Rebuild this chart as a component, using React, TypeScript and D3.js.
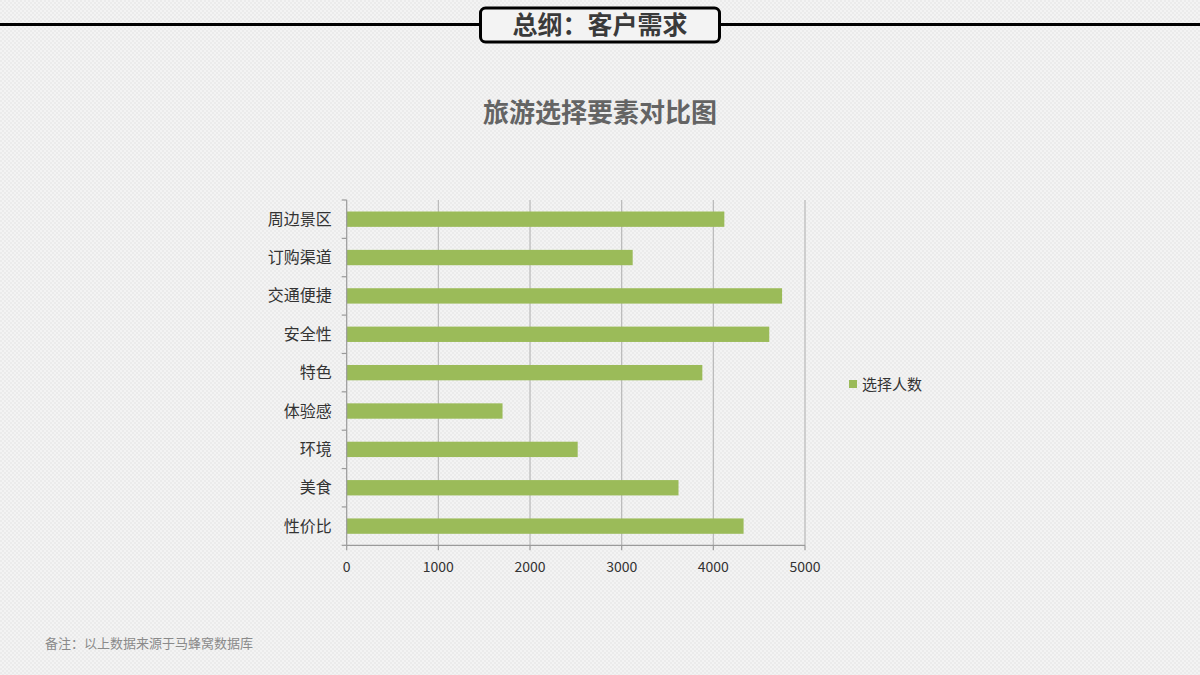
import React from "react";
import * as d3 from "d3";

const categories = ["周边景区", "订购渠道", "交通便捷", "安全性", "特色", "体验感", "环境", "美食", "性价比"];
const values = [4120, 3120, 4750, 4610, 3880, 1700, 2520, 3620, 4330];
const xTicks = [0, 1000, 2000, 3000, 4000, 5000];
const seriesName = "选择人数";
const headerText = "总纲：客户需求";
const titleText = "旅游选择要素对比图";
const noteText = "备注：以上数据来源于马蜂窝数据库";

const W = 1200;
const H = 675;
const plot = { left: 346.7, right: 805, top: 200, bottom: 545.3 };
const barColor = "#9bbb59";
const font = "'Noto Sans CJK SC', 'Noto Sans', sans-serif";

export default function App() {
  const x = d3.scaleLinear().domain([0, 5000]).range([plot.left, plot.right]);
  const y = d3.scaleBand<string>().domain(categories).range([plot.top, plot.bottom]).paddingInner(0.6).paddingOuter(0.3);
  const yb = d3.scaleBand<string>().domain(categories).range([plot.top, plot.bottom]);
  const boundaries = d3.range(categories.length + 1).map((i) => plot.top + i * yb.step());

  return (
    <svg width={W} height={H} style={{ position: "absolute", left: 0, top: 0 }}>
      <defs>
        <pattern id="bg" width="4" height="4" patternUnits="userSpaceOnUse">
          <rect width="4" height="4" fill="#f3f3f3" />
          <rect x="0" y="0" width="2" height="2" fill="#ebebeb" />
          <rect x="2" y="2" width="2" height="2" fill="#ebebeb" />
        </pattern>
      </defs>
      <rect width={W} height={H} fill="url(#bg)" />

      {/* Header */}
      <line x1={0} x2={W} y1={24.5} y2={24.5} stroke="#000" strokeWidth={3} />
      <rect x={480.5} y={8} width={239} height={34} rx={5} ry={5} fill="#f3f3f3" stroke="#000" strokeWidth={3} />
      <text x={600} y={34} textAnchor="middle" fontFamily={font} fontSize={25} fontWeight="bold" fill="#3a3a3a">
        {headerText}
      </text>

      {/* Title */}
      <text x={600} y={122} textAnchor="middle" fontFamily={font} fontSize={26} fontWeight="bold" fill="#646464">
        {titleText}
      </text>

      {/* Gridlines */}
      {xTicks.slice(1).map((t) => (
        <line key={"g" + t} x1={x(t)} x2={x(t)} y1={plot.top} y2={plot.bottom} stroke="#b8b8b8" strokeWidth={1.2} />
      ))}

      {/* Bars */}
      {categories.map((c, i) => (
        <rect key={c} x={x(0)} y={y(c)} width={x(values[i]) - x(0)} height={y.bandwidth()} fill={barColor} />
      ))}

      {/* Axes */}
      <line x1={plot.left} x2={plot.left} y1={plot.top} y2={plot.bottom} stroke="#9a9a9a" strokeWidth={1.2} />
      {boundaries.map((b, i) => (
        <line key={"yt" + i} x1={plot.left - 5} x2={plot.left} y1={b} y2={b} stroke="#9a9a9a" strokeWidth={1.2} />
      ))}
      <line x1={plot.left} x2={plot.right} y1={plot.bottom} y2={plot.bottom} stroke="#9a9a9a" strokeWidth={1.2} />
      {xTicks.map((t) => (
        <g key={"xt" + t}>
          <line x1={x(t)} x2={x(t)} y1={plot.bottom} y2={plot.bottom + 5} stroke="#9a9a9a" strokeWidth={1.2} />
          <text x={x(t)} y={plot.bottom + 27} textAnchor="middle" fontFamily={font} fontSize={14} fill="#333">
            {t}
          </text>
        </g>
      ))}

      {/* Category labels */}
      {categories.map((c) => (
        <text key={"l" + c} x={plot.left - 15} y={(yb(c) as number) + yb.bandwidth() / 2 + 5.5} textAnchor="end" fontFamily={font} fontSize={16} fill="#333">
          {c}
        </text>
      ))}

      {/* Legend */}
      <rect x={849} y={380} width={8} height={8} fill={barColor} />
      <text x={862} y={390} fontFamily={font} fontSize={15} fill="#333">
        {seriesName}
      </text>

      {/* Note */}
      <text x={45} y={648} fontFamily={font} fontSize={13} fill="#8a8a8a">
        {noteText}
      </text>
    </svg>
  );
}
